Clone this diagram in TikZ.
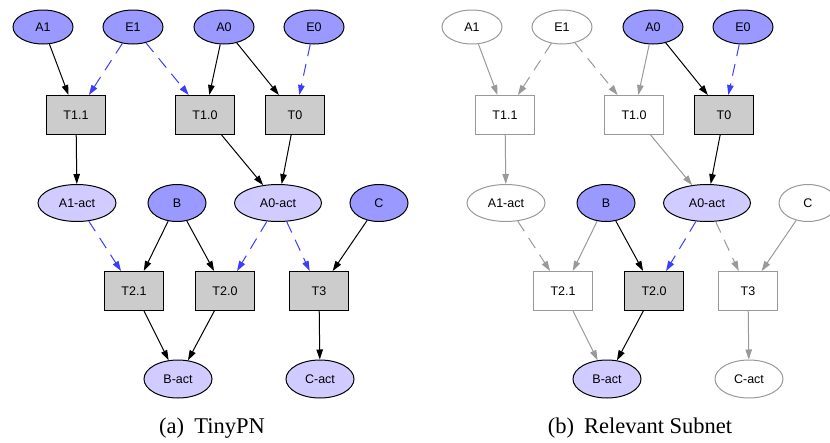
\documentclass[tikz,border=0pt]{standalone}
\usepackage{fontspec}
\setmainfont{Liberation Serif}
\newfontfamily\nodefont{Liberation Sans}
\usetikzlibrary{shapes.geometric,arrows.meta}
\definecolor{pblue}{HTML}{9999FF}
\definecolor{plav}{HTML}{D0CCFF}
\definecolor{tgray}{HTML}{CCCCCC}
\definecolor{dgray}{HTML}{999999}
\definecolor{rblue}{HTML}{3C3CFF}
\tikzset{
  nbase/.style={inner sep=0pt, font=\nodefont\fontsize{12.5}{14}\selectfont, line width=1pt},
  pl/.style={nbase, ellipse, minimum width=60pt, minimum height=34pt},
  plact/.style={nbase, ellipse, minimum width=78pt, minimum height=37pt},
  placeon/.style={draw=black, fill=pblue},
  acton/.style={draw=black, fill=plav},
  placeoff/.style={draw=dgray, fill=white},
  tr/.style={nbase, rectangle, minimum width=59pt, minimum height=39pt},
  tron/.style={draw=black, fill=tgray},
  troff/.style={draw=dgray, fill=white},
  arc/.style={-{Triangle[length=10pt,width=6.5pt]}, line width=1pt, draw=black},
  rarc/.style={-{Triangle[length=10pt,width=6.5pt]}, line width=1pt, draw=rblue, dash pattern=on 12pt off 8pt},
  darc/.style={-{Triangle[length=10pt,width=6.5pt]}, line width=1pt, draw=dgray},
  drarc/.style={-{Triangle[length=10pt,width=6.5pt]}, line width=1pt, draw=dgray, dash pattern=on 12pt off 8pt},
  captxt/.style={inner sep=0pt, anchor=base, font=\fontsize{22.5}{26}\selectfont}
}
\begin{document}
\begin{tikzpicture}[x=1pt,y=-1pt]
\useasboundingbox (0,0) rectangle (830,442);
% ---------- (a) TinyPN ----------
\node[pl,placeon] (aA1) at (43,27) {A1};
\node[pl,placeon] (aE1) at (133,27) {E1};
\node[pl,placeon] (aA0) at (224,27) {A0};
\node[pl,placeon] (aE0) at (314,27) {E0};
\node[tr,tron] (aT11) at (76,115) {T1.1};
\node[tr,tron] (aT10) at (205,115) {T1.0};
\node[tr,tron] (aT0) at (295,115) {T0};
\node[plact,acton] (aA1act) at (77,203) {A1-act};
\node[pl,placeon,minimum width=58pt,minimum height=37pt] (aB) at (177,203) {B};
\node[plact,acton,minimum width=87pt] (aA0act) at (278,203) {A0-act};
\node[pl,placeon,minimum width=58pt,minimum height=37pt] (aC) at (379,203) {C};
\node[tr,tron] (aT21) at (134,291) {T2.1};
\node[tr,tron] (aT20) at (225,291) {T2.0};
\node[tr,tron] (aT3) at (319,291) {T3};
\node[plact,acton,minimum width=68pt,minimum height=38pt] (aBact) at (178,379) {B-act};
\node[plact,acton,minimum width=68pt,minimum height=38pt] (aCact) at (320,379) {C-act};
\draw[arc] (aA1) -- (aT11);
\draw[rarc] (aE1) -- (aT11);
\draw[rarc] (aE1) -- (aT10);
\draw[arc] (aA0) -- (aT10);
\draw[arc] (aA0) -- (aT0);
\draw[rarc] (aE0) -- (aT0);
\draw[arc] (aT11) -- (aA1act);
\draw[arc] (aT10) -- (aA0act);
\draw[arc] (aT0) -- (aA0act);
\draw[rarc] (aA1act) -- (aT21);
\draw[arc] (aB) -- (aT21);
\draw[arc] (aB) -- (aT20);
\draw[rarc] (aA0act) -- (aT20);
\draw[rarc] (aA0act) -- (aT3);
\draw[arc] (aC) -- (aT3);
\draw[arc] (aT21) -- (aBact);
\draw[arc] (aT20) -- (aBact);
\draw[arc] (aT3) -- (aCact);
\node[captxt] (capa) at (212,433) {(a)\hspace{0.45em}TinyPN};
% ---------- (b) Relevant Subnet ----------
\node[pl,placeoff] (bA1) at (472,27) {A1};
\node[pl,placeoff] (bE1) at (562,27) {E1};
\node[pl,placeon] (bA0) at (653,27) {A0};
\node[pl,placeon] (bE0) at (743,27) {E0};
\node[tr,troff] (bT11) at (505,115) {T1.1};
\node[tr,troff] (bT10) at (634,115) {T1.0};
\node[tr,tron] (bT0) at (724,115) {T0};
\node[plact,placeoff] (bA1act) at (506,203) {A1-act};
\node[pl,placeon,minimum width=58pt,minimum height=37pt] (bB) at (606,203) {B};
\node[plact,acton,minimum width=87pt] (bA0act) at (707,203) {A0-act};
\node[pl,placeoff,minimum width=58pt,minimum height=37pt] (bC) at (808,203) {C};
\node[tr,troff] (bT21) at (563,291) {T2.1};
\node[tr,tron] (bT20) at (654,291) {T2.0};
\node[tr,troff] (bT3) at (748,291) {T3};
\node[plact,acton,minimum width=68pt,minimum height=38pt] (bBact) at (607,379) {B-act};
\node[plact,placeoff,minimum width=68pt,minimum height=38pt] (bCact) at (749,379) {C-act};
\draw[darc] (bA1) -- (bT11);
\draw[drarc] (bE1) -- (bT11);
\draw[drarc] (bE1) -- (bT10);
\draw[darc] (bA0) -- (bT10);
\draw[arc] (bA0) -- (bT0);
\draw[rarc] (bE0) -- (bT0);
\draw[darc] (bT11) -- (bA1act);
\draw[darc] (bT10) -- (bA0act);
\draw[arc] (bT0) -- (bA0act);
\draw[drarc] (bA1act) -- (bT21);
\draw[darc] (bB) -- (bT21);
\draw[arc] (bB) -- (bT20);
\draw[rarc] (bA0act) -- (bT20);
\draw[drarc] (bA0act) -- (bT3);
\draw[darc] (bC) -- (bT3);
\draw[darc] (bT21) -- (bBact);
\draw[arc] (bT20) -- (bBact);
\draw[darc] (bT3) -- (bCact);
\node[captxt] (capb) at (640,433) {(b)\hspace{0.45em}Relevant Subnet};
\end{tikzpicture}
\end{document}
